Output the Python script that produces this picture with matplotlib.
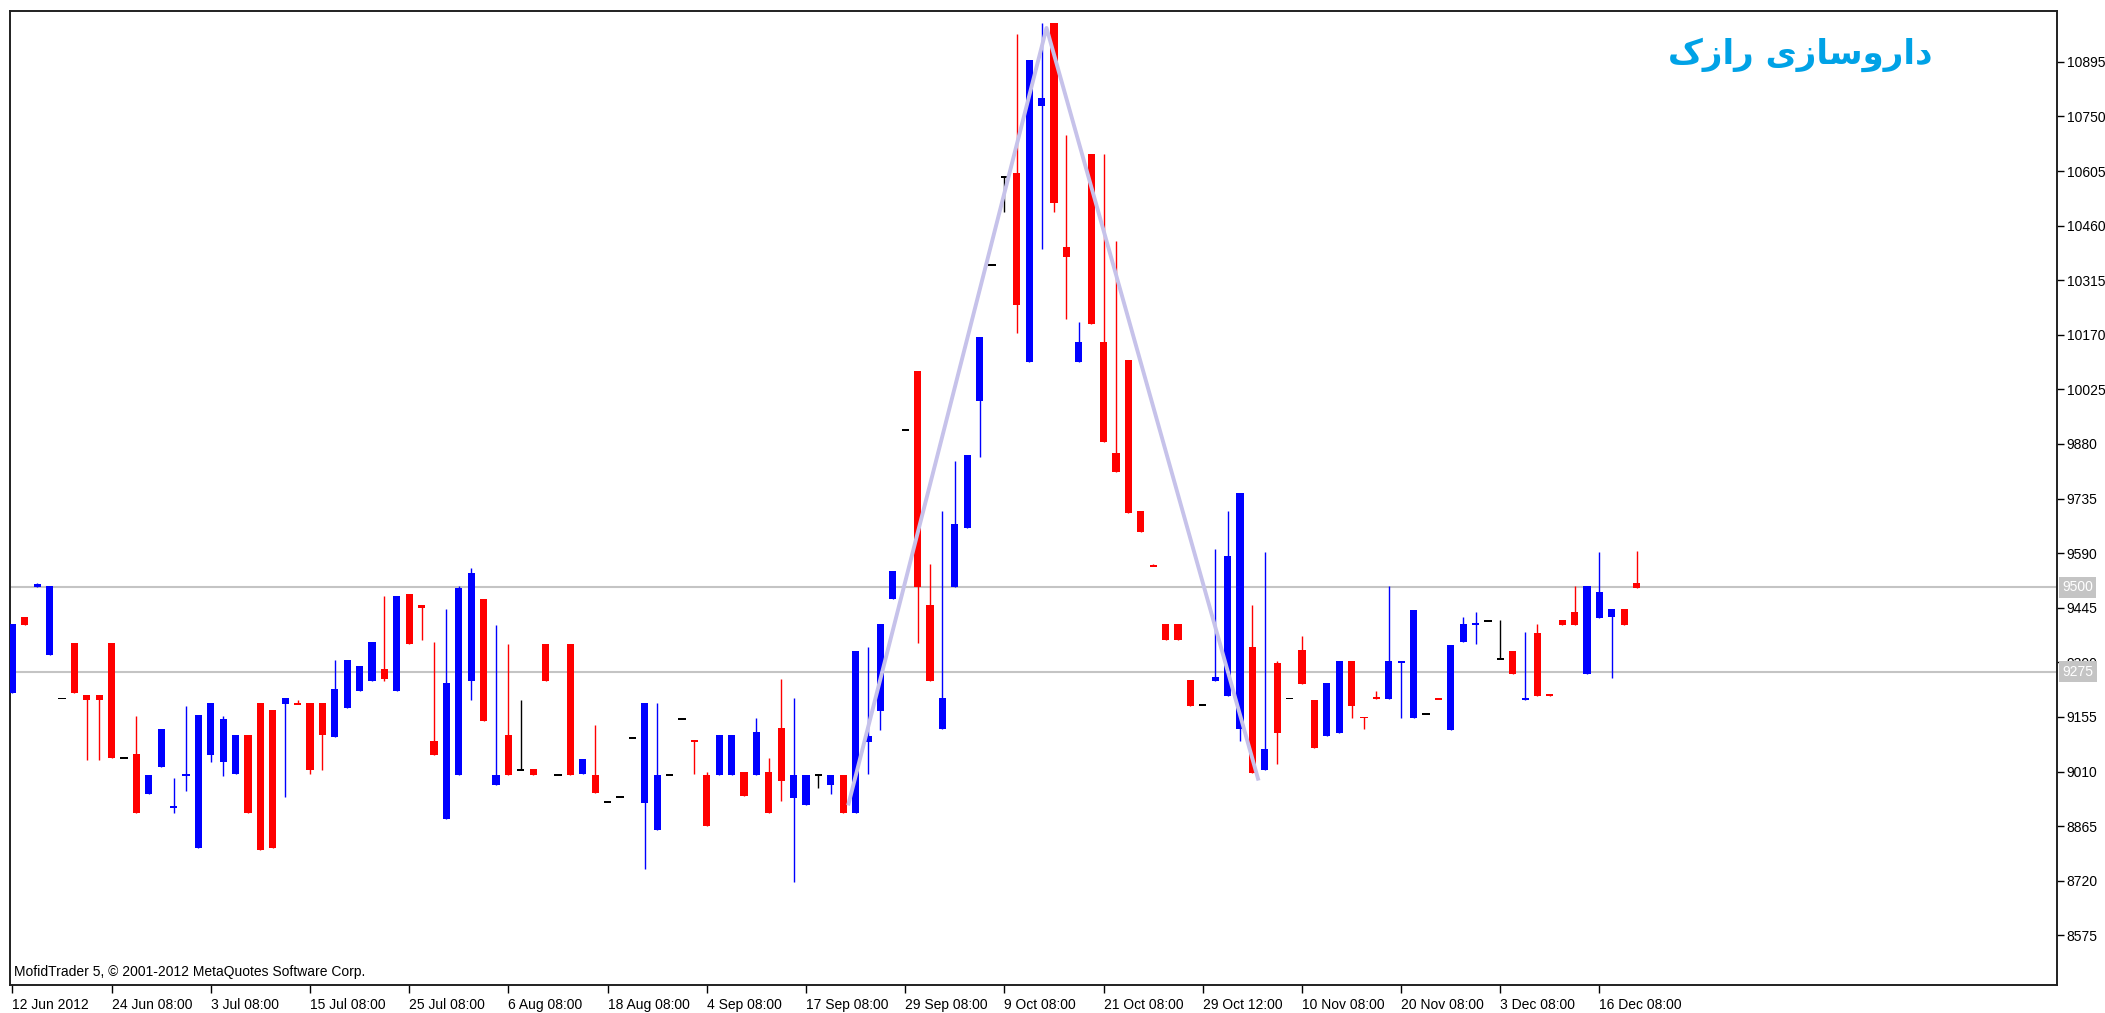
import numpy as np
import matplotlib.pyplot as plt

# daily candles (blue = up, red = down, black = doji)
opens = [9219, 9421, 9500, 9319, 9204, 9352, 9213, 9213, 9352, 9046,
         9057, 8951, 9022, 8914, 8999, 8807, 9053, 9036, 9003, 9107,
         9191, 9173, 9189, 9192, 9191, 9191, 9103, 9180, 9224, 9251,
         9282, 9224, 9481, 9452, 9092, 8883, 9000, 9251, 9467, 8973,
         9106, 9015, 9017, 9349, 9001, 9349, 9003, 9002, 8929, 8943,
         9100, 8927, 8856, 9001, 9150, 9093, 9002, 9000, 9000, 9008,
         9000, 9008, 9125, 8941, 8922, 9001, 8973, 9002, 8901, 9089,
         9170, 9467, 9916, 10075, 9452, 9122, 9500, 9658, 9995, 10355,
         10590, 10599, 10099, 10777, 10999, 10402, 10099, 10650, 10151, 9857,
         10104, 9701, 9558, 9403, 9403, 9254, 9186, 9251, 9211, 9122,
         9340, 9015, 9298, 9204, 9332, 9199, 9104, 9113, 9304, 9155,
         9206, 9203, 9297, 9152, 9163, 9205, 9121, 9355, 9399, 9410,
         9310, 9331, 9201, 9379, 9214, 9412, 9434, 9269, 9418, 9421,
         9443, 9511]
highs = [9402, 9421, 9511, 9502, 9204, 9352, 9213, 9213, 9352, 9046,
         9157, 9002, 9124, 8994, 9184, 9161, 9191, 9157, 9107, 9107,
         9191, 9173, 9205, 9199, 9191, 9191, 9305, 9305, 9291, 9353,
         9475, 9475, 9481, 9452, 9353, 9443, 9502, 9551, 9467, 9398,
         9349, 9199, 9017, 9349, 9001, 9349, 9043, 9133, 8929, 8943,
         9100, 9191, 9191, 9001, 9150, 9093, 9008, 9107, 9107, 9008,
         9151, 9045, 9256, 9206, 9002, 9001, 9002, 9002, 9331, 9340,
         9403, 9542, 9916, 10075, 9562, 9701, 9836, 9851, 10165, 10355,
         10590, 10968, 10900, 10999, 10999, 10701, 10203, 10650, 10650, 10419,
         10104, 9701, 9562, 9403, 9403, 9254, 9186, 9601, 9701, 9750,
         9452, 9592, 9304, 9204, 9371, 9199, 9245, 9304, 9304, 9155,
         9223, 9503, 9303, 9438, 9163, 9205, 9347, 9421, 9434, 9410,
         9412, 9331, 9381, 9403, 9214, 9412, 9503, 9503, 9593, 9443,
         9443, 9597]
lows = [9219, 9399, 9500, 9319, 9204, 9219, 9040, 9040, 9045, 9046,
        8901, 8951, 9022, 8901, 8959, 8807, 9036, 8999, 9003, 8901,
        8802, 8807, 8942, 9189, 9003, 9013, 9103, 9180, 9224, 9251,
        9251, 9224, 9350, 9359, 9053, 8883, 9000, 9201, 9143, 8973,
        9000, 9015, 9000, 9251, 9001, 9000, 9003, 8954, 8929, 8943,
        9100, 8751, 8856, 9001, 9150, 9003, 8865, 9000, 9000, 8944,
        9000, 8901, 8931, 8716, 8922, 8966, 8951, 8901, 8901, 9003,
        9121, 9467, 9916, 9351, 9251, 9122, 9500, 9658, 9846, 10355,
        10497, 10175, 10099, 10397, 10497, 10213, 10099, 10198, 9886, 9805,
        9696, 9646, 9555, 9359, 9359, 9184, 9186, 9251, 9211, 9090,
        9006, 9015, 9030, 9204, 9242, 9072, 9104, 9113, 9153, 9122,
        9203, 9203, 9152, 9152, 9163, 9202, 9121, 9355, 9350, 9410,
        9310, 9269, 9201, 9211, 9211, 9399, 9399, 9269, 9418, 9259,
        9399, 9498]
closes = [9402, 9399, 9507, 9502, 9204, 9219, 9201, 9201, 9045, 9046,
          8901, 9002, 9124, 8918, 9002, 9161, 9191, 9150, 9107, 8901,
          8802, 8807, 9205, 9189, 9013, 9108, 9228, 9305, 9291, 9353,
          9256, 9475, 9350, 9445, 9053, 9245, 9498, 9538, 9143, 9002,
          9000, 9015, 9000, 9251, 9001, 9000, 9043, 8954, 8929, 8943,
          9100, 9191, 9002, 9001, 9150, 9089, 8865, 9107, 9107, 8944,
          9115, 8901, 8986, 9002, 9002, 9001, 9002, 8901, 9331, 9104,
          9403, 9542, 9916, 9500, 9251, 9206, 9668, 9851, 10165, 10355,
          10590, 10249, 10900, 10800, 10521, 10376, 10151, 10198, 9886, 9805,
          9696, 9646, 9555, 9359, 9359, 9184, 9186, 9262, 9583, 9750,
          9006, 9071, 9113, 9204, 9242, 9072, 9245, 9304, 9185, 9152,
          9203, 9304, 9303, 9438, 9163, 9202, 9347, 9401, 9403, 9410,
          9310, 9269, 9205, 9211, 9211, 9399, 9399, 9503, 9487, 9443,
          9399, 9498]

date_labels = ['12 Jun 2012', '24 Jun 08:00', '3 Jul 08:00', '15 Jul 08:00',
               '25 Jul 08:00', '6 Aug 08:00', '18 Aug 08:00', '4 Sep 08:00',
               '17 Sep 08:00', '29 Sep 08:00', '9 Oct 08:00', '21 Oct 08:00',
               '29 Oct 12:00', '10 Nov 08:00', '20 Nov 08:00', '3 Dec 08:00',
               '16 Dec 08:00']
price_ticks = [8575, 8720, 8865, 9010, 9155, 9300, 9445, 9590, 9735,
               9880, 10025, 10170, 10315, 10460, 10605, 10750, 10895]
levels = [9500, 9275]
# zigzag drawn on the chart (bar index, price)
zz_x = [67.4, 83.4, 100.5]
zz_y = [8920, 10985, 8986]

# symbol name, letters already in joined form and visual order: داروسازی رازک
title = '\u06a9\u0632\u0627\u0631 \u06cc\u0632\ufe8e\ufeb3\u0648\u0631\u0627\u062f'

plt.rcParams['font.family'] = ['Liberation Sans', 'DejaVu Sans']

W, H = 2105, 1013
fig = plt.figure(figsize=(W / 100, H / 100), dpi=100)
ax = fig.add_axes([9.5 / W, 28 / H, (2057 - 9.5) / W, (985 - 11) / H])

o = np.array(opens, float)
c = np.array(closes, float)
x = np.arange(len(o))
cols = np.where(c > o, '#0000ff', np.where(c < o, '#ff0000', '#000000'))

# lines under candles
for lv in levels:
    ax.axhline(lv, color='#c4c4c4', lw=1.5, zorder=1)

ax.vlines(x, lows, highs, colors=cols, lw=1.0, zorder=2)
pad = np.maximum(5 - np.abs(c - o), 0) / 2
ax.bar(x, np.abs(c - o) + 2 * pad, width=0.58, bottom=np.minimum(o, c) - pad,
       color=cols, linewidth=0, zorder=3)

ax.plot(zz_x, zz_y, color='#c6c2ea', lw=2.8, zorder=4, solid_capstyle='butt')

ax.set_xlim(-0.24, 164.9)
ax.set_ylim(8443, 11030)
ax.yaxis.tick_right()
ax.set_yticks(price_ticks)
ax.set_xticks(np.arange(0, 8 * len(date_labels), 8))
ax.set_xticklabels(date_labels, ha='left')
ax.tick_params(axis='x', length=6, width=1, pad=3, labelsize=10)
ax.tick_params(axis='y', length=5, width=1, pad=2, labelsize=10)
for s in ax.spines.values():
    s.set_color('#202020')
    s.set_linewidth(1.4)

for lv in levels:
    ax.text(1.0025, lv, str(lv), transform=ax.get_yaxis_transform(),
            ha='left', va='center', color='white', fontsize=10,
            bbox=dict(boxstyle='square,pad=0.25', fc='#c4c4c4', ec='none'),
            clip_on=False, zorder=6)

ax.text(0.0022, 0.013, 'MofidTrader 5, \u00a9 2001-2012 MetaQuotes Software Corp.',
        transform=ax.transAxes, ha='left', va='center', fontsize=10)
ax.text(0.8745, 0.955, title, transform=ax.transAxes, ha='center', va='center',
        fontsize=24.5, fontweight='bold', color='#00a2e6', family=['DejaVu Sans'])

fig.savefig('out.png', dpi=100, facecolor='white')
